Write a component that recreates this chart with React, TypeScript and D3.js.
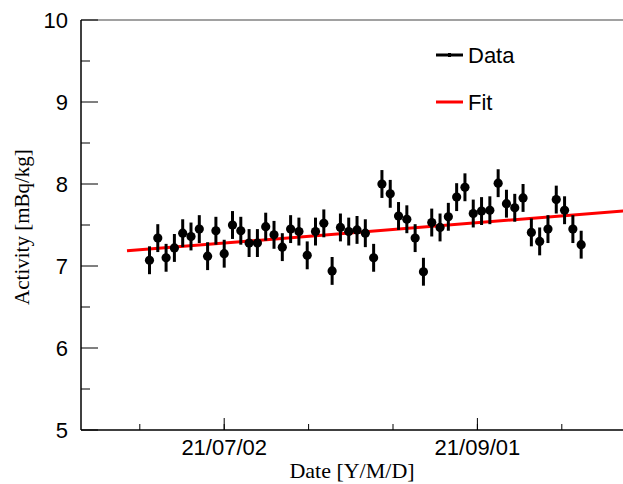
import React from "react";
import * as d3 from "d3";

const dates = [
  "2021-06-14","2021-06-16","2021-06-18","2021-06-20","2021-06-22","2021-06-24","2021-06-26","2021-06-28","2021-06-30","2021-07-02",
  "2021-07-04","2021-07-06","2021-07-08","2021-07-10","2021-07-12","2021-07-14","2021-07-16","2021-07-18","2021-07-20","2021-07-22",
  "2021-07-24","2021-07-26","2021-07-28","2021-07-30","2021-08-01","2021-08-03","2021-08-05","2021-08-07","2021-08-09","2021-08-11",
  "2021-08-13","2021-08-15","2021-08-17","2021-08-19","2021-08-21","2021-08-23","2021-08-25","2021-08-27","2021-08-29","2021-08-31",
  "2021-09-02","2021-09-04","2021-09-06","2021-09-08","2021-09-10","2021-09-12","2021-09-14","2021-09-16","2021-09-18","2021-09-20",
  "2021-09-22","2021-09-24","2021-09-26",
];
const activity = [
  7.07, 7.34, 7.10, 7.22, 7.40, 7.36, 7.45, 7.12, 7.43, 7.15,
  7.50, 7.43, 7.28, 7.28, 7.48, 7.38, 7.23, 7.45, 7.42, 7.13,
  7.42, 7.52, 6.94, 7.47, 7.42, 7.44, 7.40, 7.10, 8.00, 7.88,
  7.61, 7.57, 7.34, 6.93, 7.53, 7.47, 7.60, 7.84, 7.96, 7.64,
  7.67, 7.68, 8.01, 7.76, 7.71, 7.83, 7.41, 7.30, 7.45, 7.81,
  7.68, 7.45, 7.26,
];
const errors = [
  0.17, 0.17, 0.17, 0.17, 0.17, 0.17, 0.17, 0.17, 0.17, 0.17,
  0.17, 0.17, 0.17, 0.17, 0.17, 0.17, 0.17, 0.17, 0.17, 0.17,
  0.17, 0.17, 0.17, 0.17, 0.17, 0.17, 0.17, 0.17, 0.17, 0.17,
  0.17, 0.17, 0.17, 0.17, 0.17, 0.17, 0.17, 0.17, 0.17, 0.17,
  0.17, 0.17, 0.17, 0.17, 0.17, 0.17, 0.17, 0.17, 0.17, 0.17,
  0.17, 0.17, 0.17,
];
const xTickLabels = ["21/07/02", "21/09/01"];
const xMajorDates = ["2021-07-02", "2021-09-01"];
const yTicks = [5, 6, 7, 8, 9, 10];
// Fit: value = fitIntercept + fitSlope * (days since fitRef)
const fitRef = "2021-07-02";
const fitIntercept = 7.28;
const fitSlope = 0.00407;
const fitStart = "2021-06-08T14:00:00Z";
const legendLabels = ["Data", "Fit"];

const DAY = 86400000;
const parse = (s: string) => new Date(s.length > 10 ? s : s + "T00:00:00Z");

export default function App() {
  const W = 623, H = 484;
  const left = 81, right = 626, top = 20, bottom = 430;
  const ref = parse("2021-07-02").getTime();
  const x = d3
    .scaleUtc()
    .domain([new Date(ref - 34.5 * DAY), new Date(ref + 96.8 * DAY)])
    .range([left, right]);
  const y = d3.scaleLinear().domain([5, 10]).range([bottom, top]);

  const m0 = parse(xMajorDates[0]).getTime();
  const m1 = parse(xMajorDates[1]).getTime();
  const step = (m1 - m0) / 3;
  const minorX: number[] = [];
  for (let t = m0 - step * 5; t < m1 + step * 5; t += step) {
    const px = x(new Date(t));
    if (px > left + 1 && px < W) minorX.push(px);
  }
  const minorY = d3.range(5.5, 10, 1);

  const fitRefT = parse(fitRef).getTime();
  const fitVal = (t: number) => fitIntercept + fitSlope * ((t - fitRefT) / DAY);
  const fs = parse(fitStart).getTime();
  const fe = x.domain()[1].getTime();
  const fitLine = d3.line<number>().x((t) => x(new Date(t))).y((t) => y(fitVal(t)));

  const sans = "'Liberation Sans', Arial, sans-serif";
  const serif = "'Liberation Serif', 'Times New Roman', serif";

  return (
    <svg width={W} height={H} style={{ position: "absolute", left: 0, top: 0, background: "#fff" }}>
      <rect x={0} y={0} width={W} height={H} fill="#fff" />
      {/* frame */}
      <line x1={left} x2={W} y1={top} y2={top} stroke="#444" strokeWidth={1.2} />
      <line x1={left} x2={left} y1={top} y2={bottom} stroke="#000" strokeWidth={1.5} />
      <line x1={left} x2={W} y1={bottom} y2={bottom} stroke="#000" strokeWidth={1.5} />
      {/* y ticks */}
      {yTicks.map((v) => (
        <g key={"yt" + v}>
          <line x1={left} x2={left + 17} y1={y(v)} y2={y(v)} stroke="#000" strokeWidth={1} />
          <text x={68} y={y(v) + 8} textAnchor="end" fontFamily={sans} fontSize={22} fill="#000">
            {v}
          </text>
        </g>
      ))}
      {minorY.map((v) => (
        <line key={"ym" + v} x1={left} x2={left + 9} y1={y(v)} y2={y(v)} stroke="#000" strokeWidth={1} />
      ))}
      {/* x ticks */}
      {xMajorDates.map((d, i) => {
        const px = x(parse(d));
        return (
          <g key={"xt" + d}>
            <line x1={px} x2={px} y1={bottom} y2={bottom - 12} stroke="#000" strokeWidth={1} />
            <text x={px} y={455} textAnchor="middle" fontFamily={sans} fontSize={22} fill="#000">
              {xTickLabels[i]}
            </text>
          </g>
        );
      })}
      {minorX.map((px, i) => (
        <line key={"xm" + i} x1={px} x2={px} y1={bottom} y2={bottom - 6} stroke="#000" strokeWidth={1} />
      ))}
      {/* titles */}
      <text x={(left + W) / 2} y={478} textAnchor="middle" fontFamily={serif} fontSize={22} fill="#000">
        Date [Y/M/D]
      </text>
      <text
        transform={`translate(29, ${(top + bottom) / 2 + 2}) rotate(-90)`}
        textAnchor="middle"
        fontFamily={serif}
        fontSize={21}
        fill="#000"
      >
        Activity [mBq/kg]
      </text>
      {/* fit line */}
      <path d={fitLine([fs, fe]) || ""} stroke="#ff0000" strokeWidth={3} fill="none" />
      {/* data */}
      {dates.map((d, i) => {
        const px = x(parse(d));
        return (
          <g key={"p" + i}>
            <line
              x1={px}
              x2={px}
              y1={y(activity[i] - errors[i])}
              y2={y(activity[i] + errors[i])}
              stroke="#000"
              strokeWidth={3}
            />
            <circle cx={px} cy={y(activity[i])} r={4.6} fill="#000" />
          </g>
        );
      })}
      {/* legend */}
      <line x1={436} x2={463} y1={55} y2={55} stroke="#000" strokeWidth={3} />
      <rect x={448} y={53} width={3} height={4} fill="#000" />
      <text x={468} y={63} fontFamily={sans} fontSize={22} fill="#000">
        {legendLabels[0]}
      </text>
      <line x1={436} x2={463} y1={102} y2={102} stroke="#ff0000" strokeWidth={3} />
      <text x={468} y={110} fontFamily={sans} fontSize={22} fill="#000">
        {legendLabels[1]}
      </text>
    </svg>
  );
}
